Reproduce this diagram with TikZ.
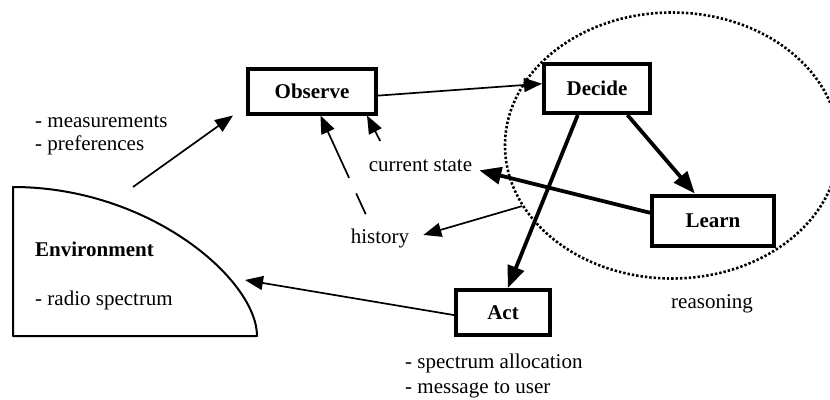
\documentclass[tikz,border=0pt]{standalone}
\usepackage{fontspec}
\setmainfont{Liberation Serif}
\usetikzlibrary{arrows.meta, shapes.geometric}

\begin{document}
\begin{tikzpicture}[x=1pt,y=-1pt,
 every node/.style={font=\fontsize{21}{24}\selectfont},
 box node/.style={draw,fill=white,line width=4pt,font=\fontsize{21}{24}\selectfont\bfseries},
 text node/.style={anchor=base west,inner sep=0pt},
 thin arrow/.style={line width=1.7pt,-{Triangle[length=18pt,width=14pt]}},
 thick arrow/.style={line width=3.8pt,-{Triangle[length=22pt,width=17pt]}}]

  \useasboundingbox (0,0) rectangle (830,399);

  % reasoning loop
  \node[ellipse,draw,line width=2.6pt,dash pattern=on 2.4pt off 2pt,
    minimum width=334pt,minimum height=266pt,inner sep=0pt] (reason) at (672,145.5) {};
  \node[text node] (rlabel) at (671,308) {reasoning};

  % environment
  \draw[line width=2pt,line join=round] (13,187) -- (13,336) -- (257,336)
    .. controls (257,280) and (150,187) .. (13,187) -- cycle;
  \coordinate (envout) at (133,187);
  \coordinate (envin) at (245,280);
  \node[text node,font=\fontsize{21}{24}\selectfont\bfseries] (env) at (35,256) {Environment};
  \node[text node] (radio) at (35,305) {- radio spectrum};

  \node[box node,minimum width=128pt,minimum height=45pt] (obs) at (312,91) {Observe};
  \node[box node,minimum width=106pt,minimum height=49pt] (dec) at (597,88.5) {Decide};
  \node[box node,minimum width=122pt,minimum height=50pt] (learn) at (713,220.5) {Learn};
  \node[box node,minimum width=94pt,minimum height=45pt] (act) at (503,312.5) {Act};
  \coordinate (obsin) at ([xshift=-13pt]obs.south west);

  \node[text node] (meas) at (35,127) {- measurements};
  \node[text node] (pref) at (35,150) {- preferences};
  \node[text node] (alloc) at (405,368) {- spectrum allocation};
  \node[text node] (msg) at (405,393) {- message to user};
  \node[inner xsep=7pt,inner ysep=18pt,anchor=base] (cur) at (420.5,171) {current state};
  \node[inner sep=14pt,anchor=base] (hist) at (380,243) {history};

  \foreach \s/\t in {envout/obsin, obs.-4/dec.175, cur.149/obs.-24,
    reason.202/hist.4, act.183/envin} {
   \draw[thin arrow] (\s) -- (\t);}
  \draw[thin arrow,dash pattern=on 23pt off 17pt on 200pt] (hist.121) -- (obs.-71);
  \foreach \s/\t in {dec.-41/learn.124, dec.-126/act.79, learn.173/cur.-5} {
   \draw[thick arrow] (\s) -- (\t);}
\end{tikzpicture}
\end{document}
